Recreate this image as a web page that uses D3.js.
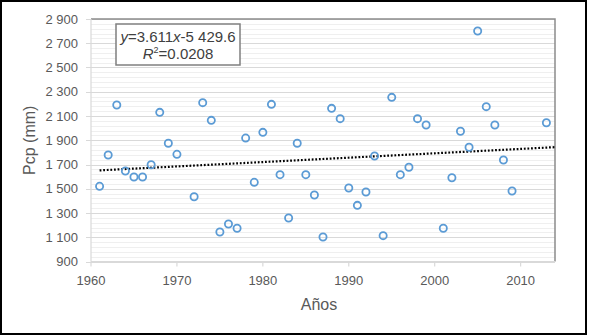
<!DOCTYPE html>
<html>
<head>
<meta charset="utf-8">
<script src="https://cdn.jsdelivr.net/npm/d3@7"></script>
<style>
  html, body { margin: 0; padding: 0; background: #fff; }
  svg { display: block; font-family: "Liberation Sans", Arial, sans-serif; }
  .tick-label { fill: #595959; font-size: 13px; }
  .axis-title { fill: #595959; font-size: 16px; }
</style>
</head>
<body>
<div id="chart"></div>
<script>
const years = [1961, 1962, 1963, 1964, 1965, 1966, 1967, 1968, 1969, 1970,
  1972, 1973, 1974, 1975, 1976, 1977, 1978, 1979, 1980, 1981,
  1982, 1983, 1984, 1985, 1986, 1987, 1988, 1989, 1990, 1991,
  1992, 1993, 1994, 1995, 1996, 1997, 1998, 1999, 2001, 2002,
  2003, 2004, 2005, 2006, 2007, 2008, 2009, 2013];
const pcp = [1520, 1778, 2191, 1646, 1597, 1597, 1698, 2130, 1875, 1784,
  1434, 2210, 2064, 1143, 1209, 1174, 1918, 1553, 1965, 2196,
  1616, 1259, 1875, 1616, 1448, 1102, 2163, 2078, 1506, 1363,
  1473, 1770, 1113, 2254, 1616, 1677, 2078, 2026, 1174, 1591,
  1974, 1842, 2801, 2177, 2026, 1737, 1481, 2044];

const xTickValues = [1960, 1970, 1980, 1990, 2000, 2010];
const yTickValues = [900, 1100, 1300, 1500, 1700, 1900, 2100, 2300, 2500, 2700, 2900];
const trendSlope = 3.611;
const trendIntercept = -5429.6;
const trendRange = [1961, 2014];

const width = 589;
const height = 336;
const margin = { top: 19, right: 34, bottom: 74.5, left: 91 };

const xScale = d3.scaleLinear().domain([1960, 2014]).range([margin.left, width - margin.right]);
const yScale = d3.scaleLinear().domain([900, 2900]).range([height - margin.bottom, margin.top]);

const fmt = d3.formatLocale({ decimal: ".", thousands: " ", grouping: [3], currency: ["", ""] }).format(",");

const svg = d3.select("#chart")
  .append("svg")
  .attr("width", width)
  .attr("height", height);

// outer frame
svg.append("rect")
  .attr("x", 1)
  .attr("y", 1)
  .attr("width", 585)
  .attr("height", 333)
  .attr("fill", "#fff")
  .attr("stroke", "#000")
  .attr("stroke-width", 2);

// minor gridlines
svg.selectAll(".minor")
  .data(d3.range(900, 2900, 40).filter((v) => (v - 900) % 200 !== 0))
  .enter()
  .append("line")
  .attr("x1", margin.left)
  .attr("x2", width - margin.right)
  .attr("y1", (d) => Math.round(yScale(d)) + 0.5)
  .attr("y2", (d) => Math.round(yScale(d)) + 0.5)
  .attr("stroke", "#efefef")
  .attr("stroke-width", 1);

// major gridlines
svg.selectAll(".major")
  .data(yTickValues)
  .enter()
  .append("line")
  .attr("x1", margin.left - 5)
  .attr("x2", width - margin.right)
  .attr("y1", (d) => Math.round(yScale(d)) + 0.5)
  .attr("y2", (d) => Math.round(yScale(d)) + 0.5)
  .attr("stroke", "#d9d9d9")
  .attr("stroke-width", 1.2);

// plot border top/right
svg.append("path")
  .attr("d", `M${margin.left},${margin.top}H${width - margin.right}V${height - margin.bottom}`)
  .attr("fill", "none")
  .attr("stroke", "#8c8c8c")
  .attr("stroke-width", 1.5);

// axes
svg.append("line")
  .attr("x1", margin.left).attr("x2", margin.left)
  .attr("y1", margin.top).attr("y2", height - margin.bottom)
  .attr("stroke", "#d9d9d9").attr("stroke-width", 1.2);

svg.append("line")
  .attr("x1", margin.left).attr("x2", width - margin.right)
  .attr("y1", height - margin.bottom).attr("y2", height - margin.bottom)
  .attr("stroke", "#d9d9d9").attr("stroke-width", 1.2);

svg.selectAll(".x-tick")
  .data(xTickValues)
  .enter()
  .append("line")
  .attr("x1", (d) => xScale(d)).attr("x2", (d) => xScale(d))
  .attr("y1", height - margin.bottom).attr("y2", height - margin.bottom + 5)
  .attr("stroke", "#d9d9d9").attr("stroke-width", 1.2);

svg.selectAll(".x-label")
  .data(xTickValues)
  .enter()
  .append("text")
  .attr("class", "tick-label")
  .attr("x", (d) => xScale(d))
  .attr("y", 285)
  .attr("text-anchor", "middle")
  .text((d) => d);

svg.selectAll(".y-label")
  .data(yTickValues)
  .enter()
  .append("text")
  .attr("class", "tick-label")
  .attr("x", 78)
  .attr("y", (d) => yScale(d))
  .attr("dy", "0.35em")
  .attr("text-anchor", "end")
  .text((d) => fmt(d));

svg.append("text")
  .attr("class", "axis-title")
  .attr("text-anchor", "middle")
  .attr("transform", `translate(35,${yScale(1900)}) rotate(-90)`)
  .text("Pcp (mm)");

svg.append("text")
  .attr("class", "axis-title")
  .attr("text-anchor", "middle")
  .attr("x", 319)
  .attr("y", 310)
  .text("Años");

// trendline
const trendLine = d3.line()
  .x((d) => xScale(d))
  .y((d) => yScale(trendSlope * d + trendIntercept));

svg.append("path")
  .attr("d", trendLine(trendRange))
  .attr("fill", "none")
  .attr("stroke", "#000")
  .attr("stroke-width", 2.2)
  .attr("stroke-dasharray", "1.8,1.8");

// points
svg.selectAll(".pt")
  .data(years)
  .enter()
  .append("circle")
  .attr("cx", (d) => xScale(d))
  .attr("cy", (d, i) => yScale(pcp[i]))
  .attr("r", 3.6)
  .attr("fill", "none")
  .attr("stroke", "#5b9bd5")
  .attr("stroke-width", 1.8);

// equation box
const box = svg.append("g");
box.append("rect")
  .attr("x", 116)
  .attr("y", 24)
  .attr("width", 124)
  .attr("height", 41)
  .attr("fill", "#fff")
  .attr("stroke", "#7f7f7f")
  .attr("stroke-width", 1.5);

const eq = box.append("text")
  .attr("x", 178)
  .attr("y", 42)
  .attr("text-anchor", "middle")
  .attr("font-size", 15)
  .attr("fill", "#404040");
eq.append("tspan").attr("font-style", "italic").text("y");
eq.append("tspan").text("=3.611");
eq.append("tspan").attr("font-style", "italic").text("x");
eq.append("tspan").text("-5 429.6");

const r2 = box.append("text")
  .attr("x", 178)
  .attr("y", 59)
  .attr("text-anchor", "middle")
  .attr("font-size", 15)
  .attr("fill", "#404040");
r2.append("tspan").attr("font-style", "italic").text("R");
r2.append("tspan").attr("font-size", 9).attr("dy", -6).text("2");
r2.append("tspan").attr("dy", 6).text("=0.0208");
</script>
</body>
</html>
